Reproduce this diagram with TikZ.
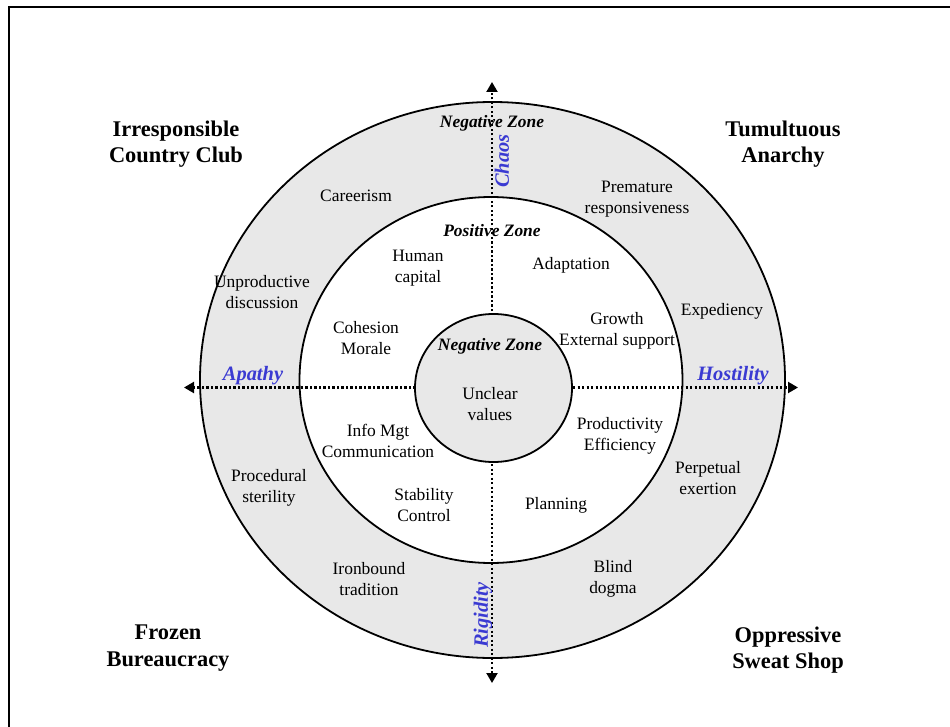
\documentclass[tikz,border=0pt]{standalone}
\usepackage{fontspec}
\setmainfont{Liberation Serif}
\usetikzlibrary{shapes.geometric,arrows.meta}

\definecolor{ringgray}{RGB}{232,232,232}
\definecolor{tenblue}{RGB}{58,58,210}

\tikzset{
  zoneshape/.style={ellipse, draw=black, line width=1.8bp, inner sep=0pt, outer sep=0pt},
  item/.style={font=\fontsize{17.5}{20.5}\selectfont, align=center, inner sep=0pt},
  quadrant/.style={font=\bfseries\fontsize{22.5}{26.5}\selectfont, align=center, inner sep=0pt},
  zonelabel/.style={font=\bfseries\itshape\fontsize{17.5}{20}\selectfont, inner sep=0pt},
  axislabel/.style={font=\bfseries\itshape\fontsize{20.5}{24}\selectfont, text=tenblue, inner sep=0pt},
  axisline/.style={line width=2.1bp, dash pattern=on 2.1bp off 2.4bp,
                   -{Triangle[length=10bp,width=11bp]}},
  framerule/.style={line width=1.8bp}
}

\begin{document}
\begin{tikzpicture}[x=1bp,y=-1bp]
  \useasboundingbox (0,0) rectangle (950,727);

  % frame edges
  \coordinate (frameTL) at (9,7.3);
  \coordinate (frameTR) at (950,7.3);
  \coordinate (frameBL) at (9,727);
  \draw[framerule] (frameTR) -- (frameTL) -- (frameBL);

  % outer negative ring and positive band
  \node[zoneshape, fill=ringgray, minimum width=585bp, minimum height=556bp] (outer) at (492.5,380) {};
  \node[zoneshape, fill=white, minimum width=383bp, minimum height=366bp] (inner) at (491,380) {};

  % axis end points
  \coordinate (axTop) at (492,82);
  \coordinate (axBot) at (492,683);
  \coordinate (axLeft) at (184,387.5);
  \coordinate (axRight) at (798,387.5);
  \coordinate (hub) at (492,387.5);

  \draw[axisline] (hub) -- (axTop);
  \draw[axisline] (hub) -- (axBot);
  \draw[axisline] (hub) -- (axLeft);
  \draw[axisline] (hub) -- (axRight);

  % central negative zone
  \node[zoneshape, fill=ringgray, minimum width=157bp, minimum height=148bp] (core) at (493.5,388) {};

  % quadrant titles
  \node[quadrant] (qNW) at (176,144) {Irresponsible\\Country Club};
  \node[quadrant] (qNE) at (783,144) {Tumultuous\\Anarchy};
  \node[quadrant] (qSW) at (168,648) {Frozen\\Bureaucracy};
  \node[quadrant] (qSE) at (788,650) {Oppressive\\Sweat Shop};

  % zone labels
  \node[zonelabel] (negTop) at (492,123) {Negative Zone};
  \node[zonelabel] (pos) at (492,231) {Positive Zone};
  \node[zonelabel] (negCore) at (490,346) {Negative Zone};

  % tensions on the axes
  \node[axislabel, rotate=90] (chaos) at (502,161) {Chaos};
  \node[axislabel, rotate=90] (rigid) at (483,615) {Rigidity};
  \node[axislabel] (apathy) at (253,376) {Apathy};
  \node[axislabel] (hostility) at (733,376) {Hostility};

  % outer ring items
  \node[item] (careerism) at (356,196) {Careerism};
  \node[item] (premature) at (637,199) {Premature\\responsiveness};
  \node[item] (unprod) at (262,292) {Unproductive\\discussion};
  \node[item] (expediency) at (722,311) {Expediency};
  \node[item] (procedural) at (269,488) {Procedural\\sterility};
  \node[item] (perpetual) at (708,478) {Perpetual\\exertion};
  \node[item] (ironbound) at (369,579) {Ironbound\\tradition};
  \node[item] (blind) at (613,579) {Blind\\dogma};

  % positive band items
  \node[item] (human) at (418,268) {Human\\capital};
  \node[item] (adapt) at (571,265) {Adaptation};
  \node[item] (cohesion) at (366,338) {Cohesion\\Morale};
  \node[item] (growth) at (617,331) {Growth\\External support};
  \node[item] (info) at (378,441) {Info Mgt\\Communication};
  \node[item] (product) at (620,436) {Productivity\\Efficiency};
  \node[item] (stability) at (424,505) {Stability\\Control};
  \node[item] (planning) at (556,505) {Planning};

  % core item
  \node[item] (unclear) at (490,404) {Unclear\\values};
\end{tikzpicture}
\end{document}
